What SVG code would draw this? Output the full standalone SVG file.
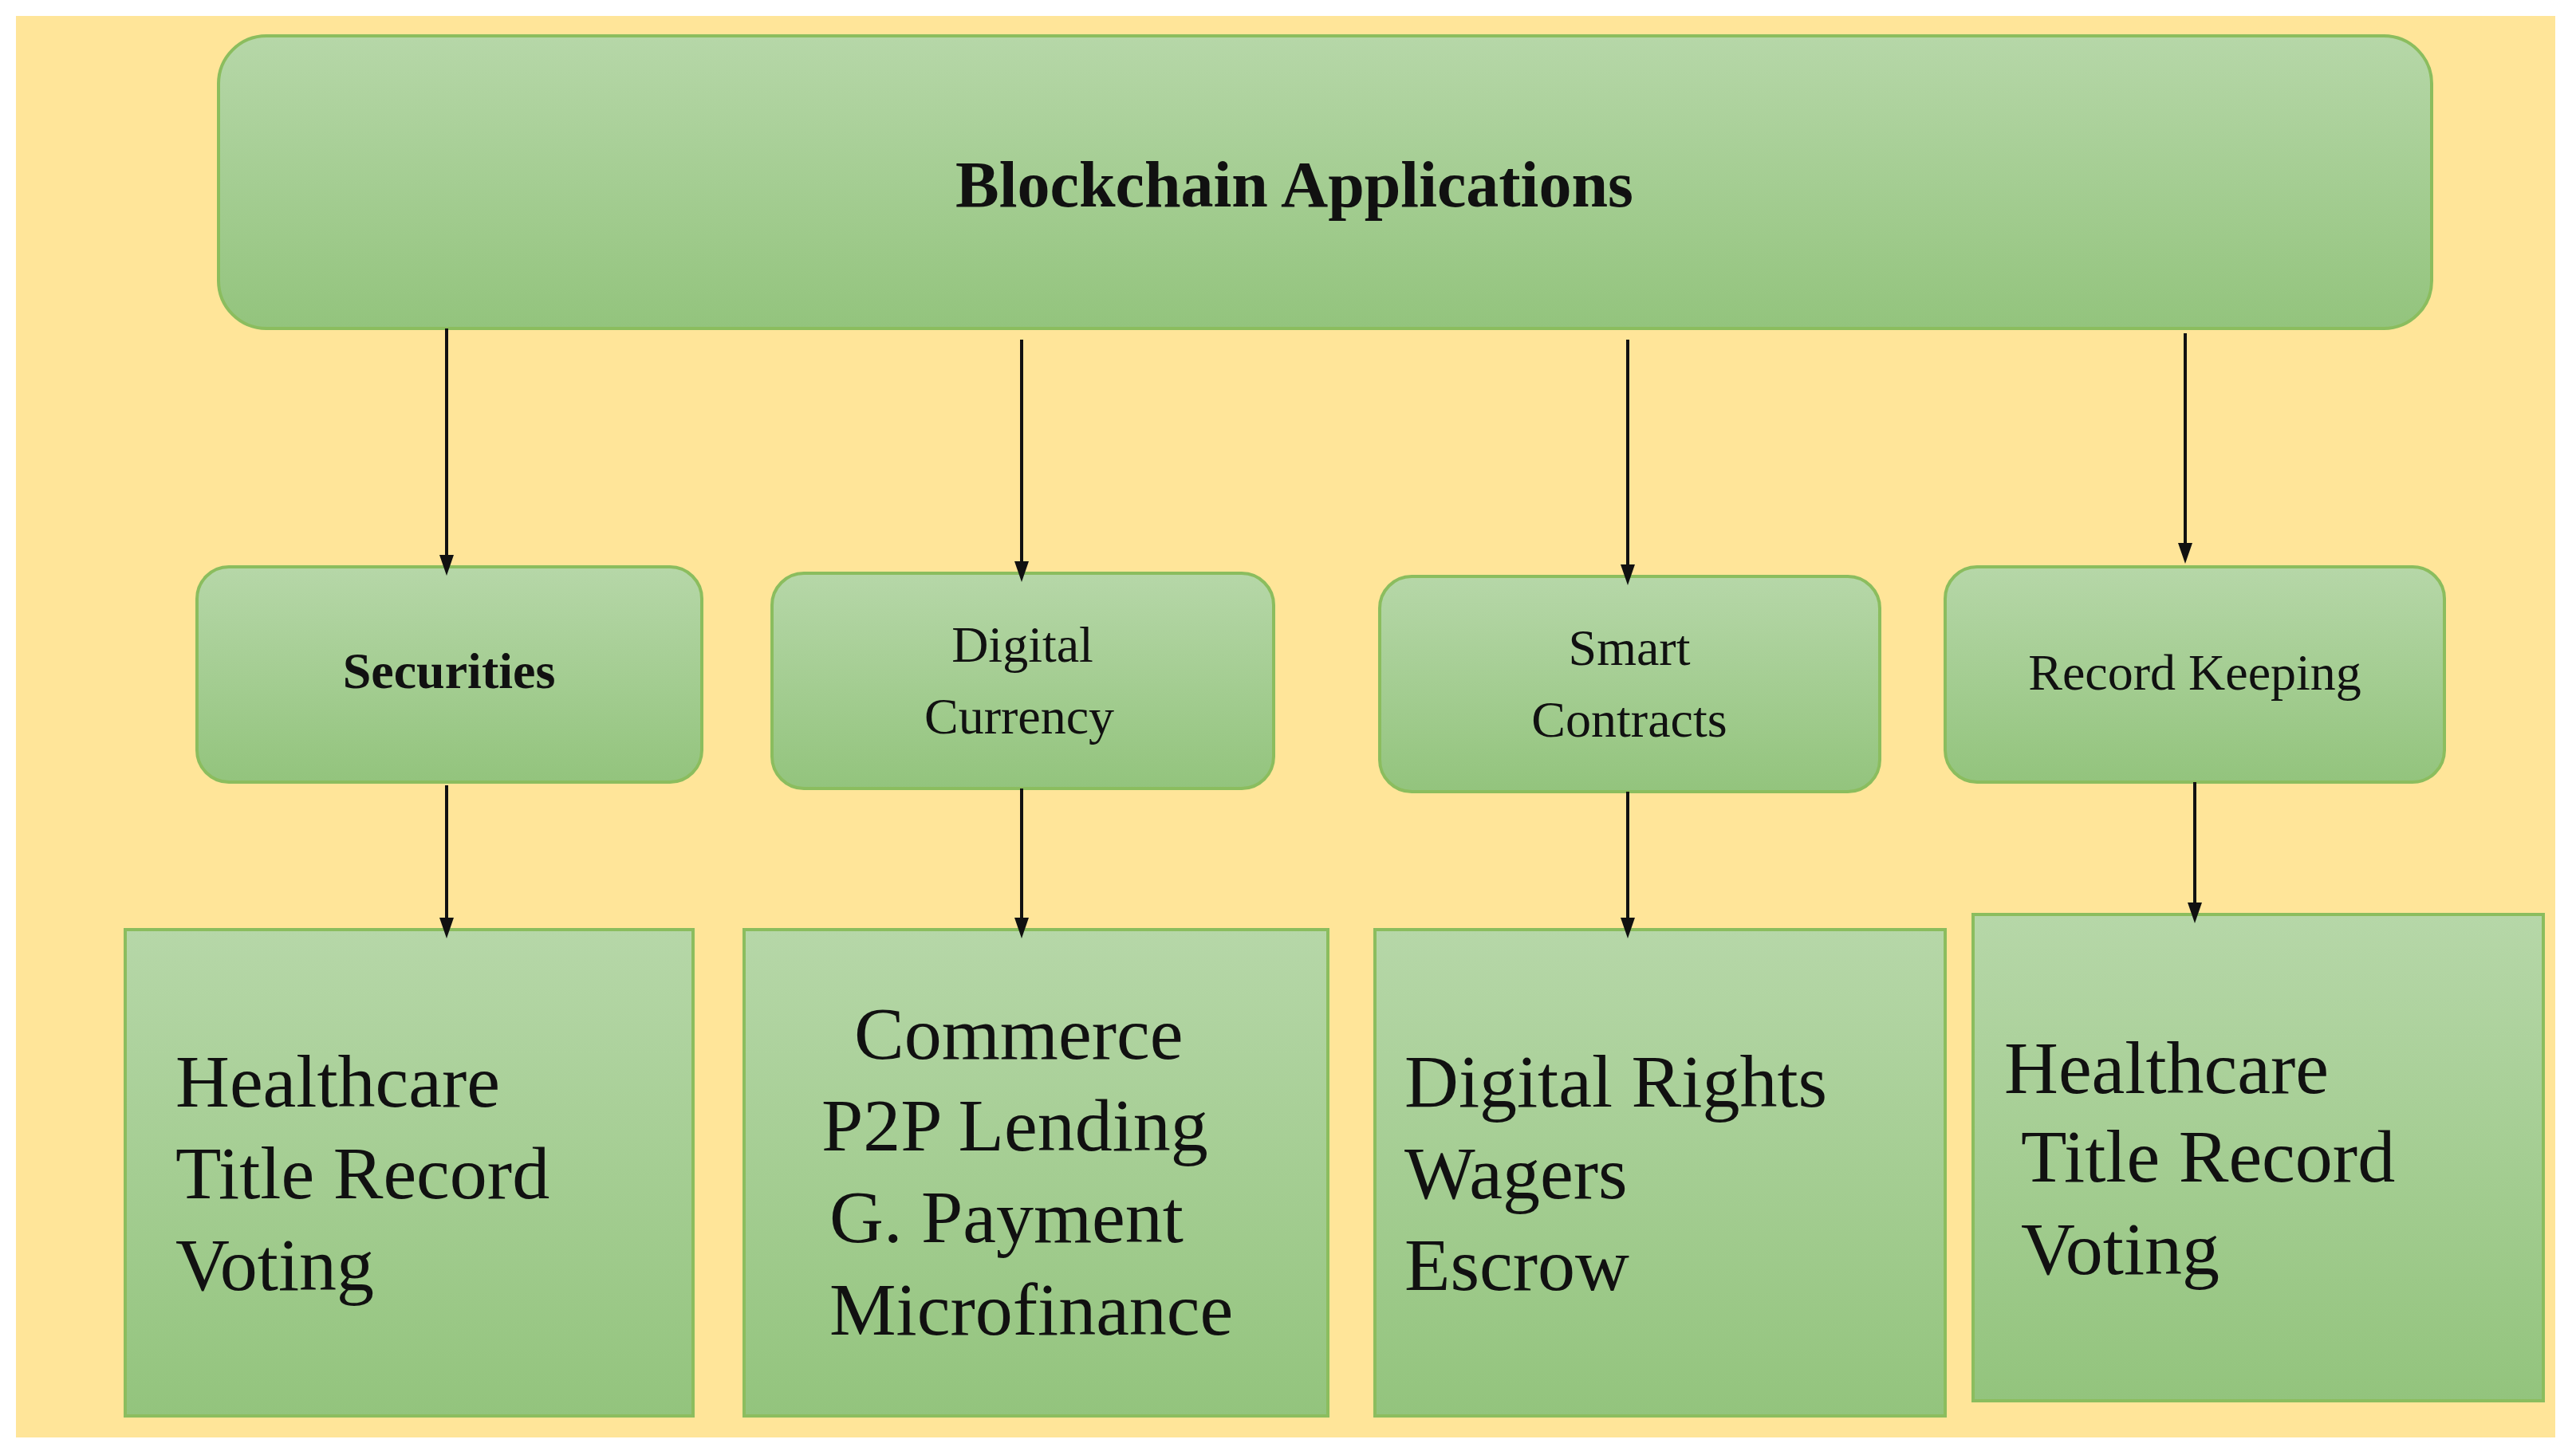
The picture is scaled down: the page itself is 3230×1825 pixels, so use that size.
<svg xmlns="http://www.w3.org/2000/svg" width="3230" height="1825" viewBox="0 0 3230 1825">
<defs>
<linearGradient id="g" x1="0" y1="0" x2="0" y2="1"><stop offset="0" stop-color="#b6d7a8"/><stop offset="1" stop-color="#93c47d"/></linearGradient>
<marker id="a" markerWidth="10" markerHeight="10" refX="9" refY="5" orient="auto" markerUnits="userSpaceOnUse" viewBox="0 0 10 10"><path d="M0,0 L10,5 L0,10 z" fill="#111"/></marker>
<style>
.b{fill:url(#g);stroke:#8bbd5e;stroke-width:4}
.t{font-family:"Liberation Serif",serif;fill:#111;dominant-baseline:central}
.m{font-size:64px;text-anchor:middle}
.l{font-size:94px}
.c line{stroke:#111;stroke-width:4;marker-end:url(#a)}
</style>
<marker id="a2" markerWidth="26" markerHeight="26" refX="13" refY="13" orient="auto" markerUnits="userSpaceOnUse"><path d="M0,4 L26,13 L0,22 z" fill="#111"/></marker>
</defs>
<rect x="0" y="0" width="3230" height="1825" fill="#fff"/>
<rect x="20" y="20" width="3184" height="1783" fill="#ffe599"/>
<g id="top"><rect class="b" x="274" y="45" width="2775" height="367" rx="60"/><text class="t m" x="1623" y="231" font-size="82" font-weight="bold" style="font-size:82px">Blockchain Applications</text></g>
<g id="securities"><rect class="b" x="247" y="711" width="633" height="270" rx="40"/><text class="t m" x="563" y="841" font-weight="bold">Securities</text></g>
<g id="digital"><rect class="b" x="968" y="719" width="629" height="270" rx="40"/><text class="t m" x="1282" y="808">Digital</text><text class="t m" x="1278" y="898">Currency</text></g>
<g id="smart"><rect class="b" x="1730" y="723" width="627" height="270" rx="40"/><text class="t m" x="2043" y="812">Smart</text><text class="t m" x="2043" y="902">Contracts</text></g>
<g id="record"><rect class="b" x="2439" y="711" width="626" height="270" rx="40"/><text class="t m" x="2752" y="843">Record Keeping</text></g>
<g id="b1"><rect class="b" x="157" y="1166" width="712" height="610"/><text class="t l" x="220" y="1356">Healthcare</text><text class="t l" x="220" y="1471">Title Record</text><text class="t l" x="220" y="1586">Voting</text></g>
<g id="b2"><rect class="b" x="933" y="1166" width="732" height="610"/><text class="t l" x="1071" y="1296">Commerce</text><text class="t l" x="1030" y="1411">P2P Lending</text><text class="t l" x="1040" y="1526">G. Payment</text><text class="t l" x="1040" y="1642">Microfinance</text></g>
<g id="b3"><rect class="b" x="1724" y="1166" width="715" height="610"/><text class="t l" x="1761" y="1356">Digital  Rights</text><text class="t l" x="1761" y="1471">Wagers</text><text class="t l" x="1761" y="1586">Escrow</text></g>
<g id="b4"><rect class="b" x="2474" y="1147" width="715" height="610"/><text class="t l" x="2513" y="1339">Healthcare</text><text class="t l" x="2534" y="1450">Title Record</text><text class="t l" x="2534" y="1566">Voting</text></g>
<g class="c" id="connectors">
<line x1="560" y1="412" x2="560" y2="709" style="marker-end:url(#a2)"/>
<line x1="1281" y1="426" x2="1281" y2="717" style="marker-end:url(#a2)"/>
<line x1="2041" y1="426" x2="2041" y2="721" style="marker-end:url(#a2)"/>
<line x1="2740" y1="418" x2="2740" y2="694" style="marker-end:url(#a2)"/>
<line x1="560" y1="985" x2="560" y2="1164" style="marker-end:url(#a2)"/>
<line x1="1281" y1="989" x2="1281" y2="1164" style="marker-end:url(#a2)"/>
<line x1="2041" y1="993" x2="2041" y2="1164" style="marker-end:url(#a2)"/>
<line x1="2752" y1="981" x2="2752" y2="1145" style="marker-end:url(#a2)"/>
</g>
</svg>
